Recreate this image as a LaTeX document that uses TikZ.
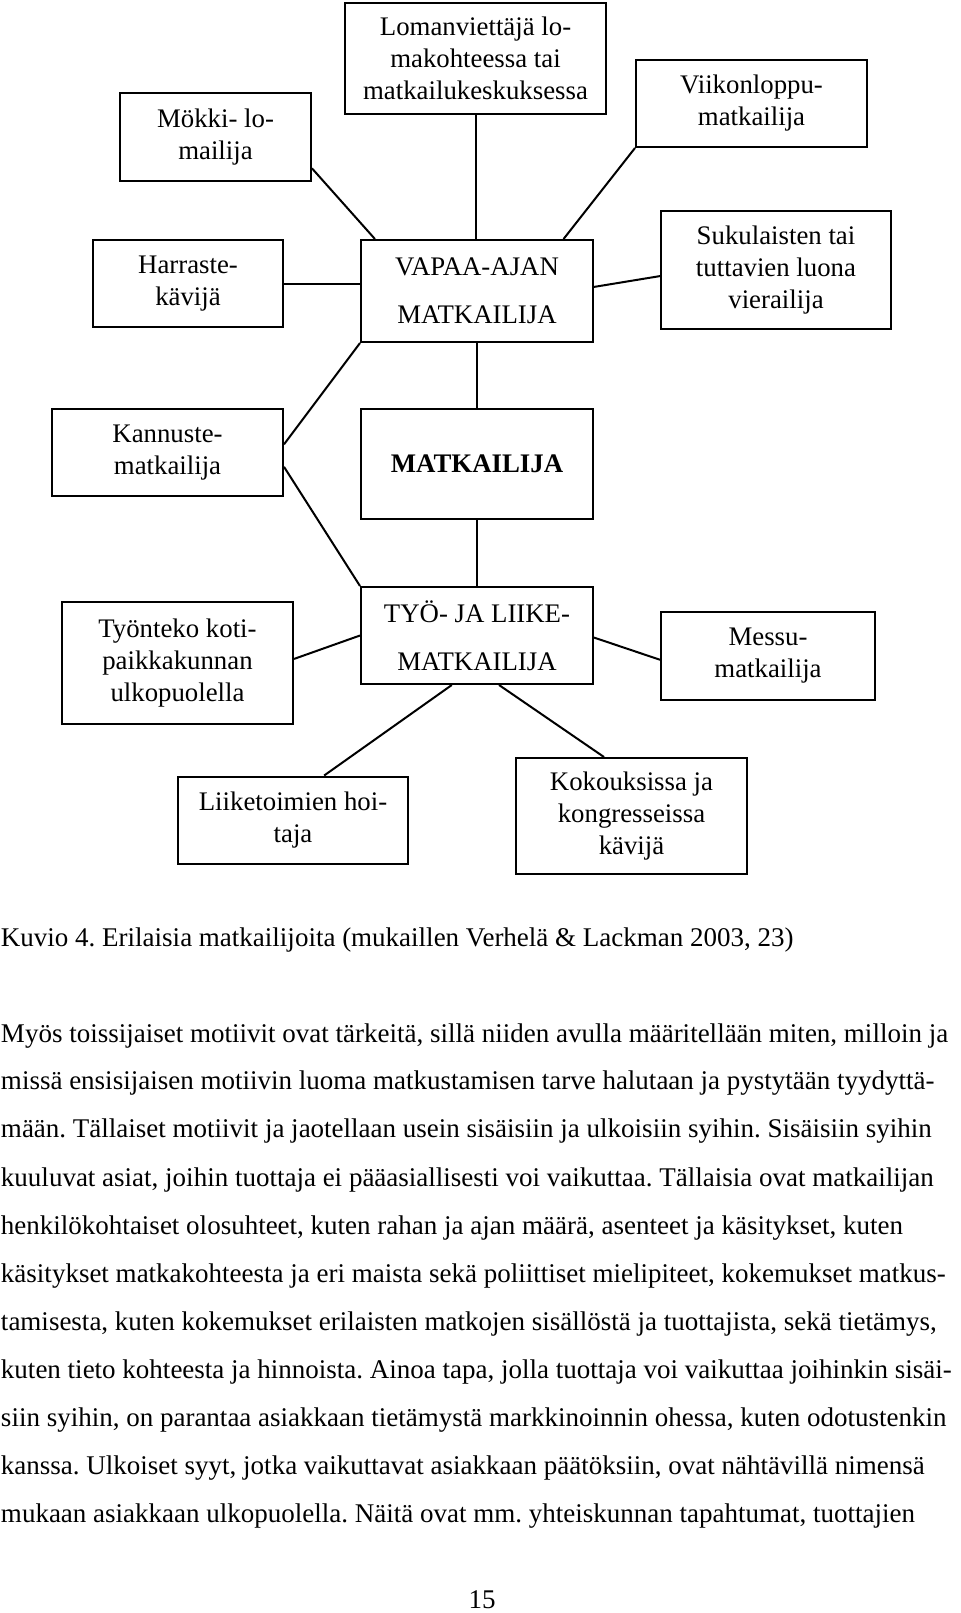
\documentclass[tikz,border=0pt]{standalone}
\usepackage{fontspec}
\setmainfont{Liberation Serif}
\frenchspacing

\begin{document}
\begin{tikzpicture}[x=0.5pt, y=-0.5pt, line width=1pt,
		b/.style 2 args={draw, align=center, inner sep=0pt, minimum width=#1pt, minimum height=#2pt, font=\fontsize{13.4}{16}\selectfont},
		txt/.style={anchor=base west, inner sep=0pt, font=\fontsize{13.5}{16}\selectfont}]
		\useasboundingbox (0,0) rectangle (960,1613);

		% vapaa-ajan matkailu
		\node [b={130.5}{55.5}] (loma) at (475.5,58.5) {Lomanviettäjä lo-\\makohteessa tai\\matkailukeskuksessa};
		\node [b={95.5}{44}] (mokki) at (215.5,137) {Mökki- lo-\\mailija};
		\node [b={115.5}{43.5}] (viikon) at (751.5,103.5) {Viikonloppu-\\matkailija};
		\node [b={95}{43.5}] (harraste) at (188,283.5) {Harraste-\\kävijä};
		\node [b={116}{51}] (vapaa) at (477,291) {VAPAA-AJAN\\[8pt]MATKAILIJA};
		\node [b={115}{59}] (suku) at (776,270) {Sukulaisten tai\\tuttavien luona\\vierailija};

		\node [b={115.5}{43.5}] (kannuste) at (167.5,452.5) {Kannuste-\\matkailija};
		\node [b={116}{55}] (matk) at (477,464) {\textbf{MATKAILIJA}};

		% työ- ja liikematkailu
		\node [b={115.5}{61}] (tyonteko) at (177.5,663) {Työnteko koti-\\paikkakunnan\\ulkopuolella};
		\node [b={116}{48.5}] (tyo) at (477,635.5) {TYÖ- JA LIIKE-\\[8pt]MATKAILIJA};
		\node [b={107}{44}] (messu) at (768,656) {Messu-\\matkailija};
		\node [b={115}{43.5}] (liike) at (293,820) {Liiketoimien hoi-\\taja};
		\node [b={115.5}{58}] (kokous) at (631.5,816) {Kokouksissa ja\\kongresseissa\\kävijä};

		\path (mokki.-18) edge (vapaa.153);
		\path (loma.south) edge (loma.south |- vapaa.north);
		\path (viikon.south west) edge (vapaa.31);
		\path (harraste.east) edge (harraste.east -| vapaa.west);
		\path (vapaa.2.5) edge (suku.183);
		\path (vapaa.south west) edge (kannuste.4.7);
		\path (vapaa.south) edge (vapaa.south |- matk.north);
		\path (matk.south) edge (matk.south |- tyo.north);
		\path (kannuste.-7) edge (tyo.north west);
		\path (tyo.180) edge (tyonteko.2);
		\path (tyo.-1.2) edge (messu.182.7);
		\path (tyo.-117.3) edge (liike.55.3);
		\path (tyo.-66.6) edge (kokous.115.2);

		% kuvateksti ja leipäteksti
		\node [txt] (kuvio) at (0,946) {Kuvio 4. Erilaisia matkailijoita (mukaillen Verhelä \& Lackman 2003, 23)};
		\node [txt] (r1) at (0,1042) {Myös toissijaiset motiivit ovat tärkeitä, sillä niiden avulla määritellään miten, milloin ja};
		\node [txt] (r2) at (0,1089) {missä ensisijaisen motiivin luoma matkustamisen tarve halutaan ja pystytään tyydyttä-};
		\node [txt] (r3) at (0,1137) {mään. Tällaiset motiivit ja jaotellaan usein sisäisiin ja ulkoisiin syihin. Sisäisiin syihin};
		\node [txt] (r4) at (0,1186) {kuuluvat asiat, joihin tuottaja ei pääasiallisesti voi vaikuttaa. Tällaisia ovat matkailijan};
		\node [txt] (r5) at (0,1234) {henkilökohtaiset olosuhteet, kuten rahan ja ajan määrä, asenteet ja käsitykset, kuten};
		\node [txt] (r6) at (0,1282) {käsitykset matkakohteesta ja eri maista sekä poliittiset mielipiteet, kokemukset matkus-};
		\node [txt] (r7) at (0,1330) {tamisesta, kuten kokemukset erilaisten matkojen sisällöstä ja tuottajista, sekä tietämys,};
		\node [txt] (r8) at (0,1378) {kuten tieto kohteesta ja hinnoista. Ainoa tapa, jolla tuottaja voi vaikuttaa joihinkin sisäi-};
		\node [txt] (r9) at (0,1426) {siin syihin, on parantaa asiakkaan tietämystä markkinoinnin ohessa, kuten odotustenkin};
		\node [txt] (r10) at (0,1474) {kanssa. Ulkoiset syyt, jotka vaikuttavat asiakkaan päätöksiin, ovat nähtävillä nimensä};
		\node [txt] (r11) at (0,1522) {mukaan asiakkaan ulkopuolella. Näitä ovat mm. yhteiskunnan tapahtumat, tuottajien};
		\node [txt, anchor=base] (sivu) at (482,1608) {15};
	\end{tikzpicture}
\end{document}
